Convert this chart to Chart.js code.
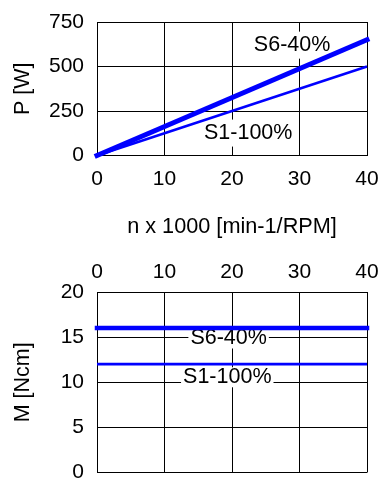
<!DOCTYPE html>
<html><head><meta charset="utf-8">
<script src="https://cdn.jsdelivr.net/npm/chart.js@4"></script>
<style>
html,body{margin:0;padding:0;background:#fff;}
#wrap{position:relative;width:389px;height:491px;background:#fff;}
#c1{position:absolute;left:0;top:0;}
#c2{position:absolute;left:0;top:245px;}
</style></head><body>
<div id="wrap"><canvas id="c1" width="389" height="245"></canvas><canvas id="c2" width="389" height="246"></canvas></div>
<script>
// ---- data ----
const speedK = [0, 40];            // n x 1000 [min-1/RPM]
const powerS6 = [0, 650];          // P [W]
const powerS1 = [0, 500];
const torqueS6 = [16, 16];         // M [Ncm]
const torqueS1 = [12, 12];
const seriesNames = ['S6-40%', 'S1-100%'];
const speedTicks = [0, 10, 20, 30, 40];
const powerTicks = [0, 250, 500, 750];
const torqueTicks = [0, 5, 10, 15, 20];
const xTitle = 'n x 1000 [min-1/RPM]';
const powerTitle = 'P [W]';
const torqueTitle = 'M [Ncm]';

const FONT = "'Liberation Sans', Arial, sans-serif";
const BLUE = '#0000ff';
Chart.defaults.font.family = FONT;
Chart.defaults.font.size = 21;
Chart.defaults.color = '#000';

const pts = (xs, ys) => xs.map((x, i) => ({x: x, y: ys[i]}));
const setTicks = arr => s => { s.ticks = arr.map(v => ({value: v})); };
const fixW = w => s => { s.width = w; s.paddingTop = 0; s.paddingBottom = 0; };
const fixH = h => s => { s.height = h; s.paddingLeft = 0; s.paddingRight = 0; };

// labels drawn on the chart at data coordinates, with white box
const labelPlugin = {
  id: 'seriesLabels',
  beforeDatasetsDraw(chart, args, opts) {
    const ctx = chart.ctx;
    const xs = chart.scales.x, ys = chart.scales.y;
    ctx.save();
    ctx.font = '21.5px ' + FONT;
    ctx.textAlign = 'center';
    ctx.textBaseline = 'middle';
    (opts.items || []).forEach(it => {
      const px = xs.getPixelForValue(it.x);
      const py = ys.getPixelForValue(it.y);
      const w = ctx.measureText(it.text).width + 4;
      const h = opts.boxH || 24;
      ctx.fillStyle = '#fff';
      ctx.fillRect(px - w / 2, py - h / 2, w, h);
      ctx.fillStyle = '#000';
      ctx.fillText(it.text, px, py);
    });
    ctx.restore();
  }
};

const gridOpts = {color: '#000', lineWidth: 1, drawTicks: false};
const borderOpts = {color: '#000', width: 1};

new Chart(document.getElementById('c1'), {
  type: 'line',
  data: {
    datasets: [
      {label: seriesNames[0], data: pts(speedK, powerS6), borderColor: BLUE, borderWidth: 5, borderCapStyle: 'square', pointRadius: 0, clip: false},
      {label: seriesNames[1], data: pts(speedK, powerS1), borderColor: BLUE, borderWidth: 2.5, borderCapStyle: 'butt', pointRadius: 0, clip: false}
    ]
  },
  options: {
    responsive: false, animation: false, events: [],
    layout: {padding: {top: 22, right: 22, left: 0, bottom: 0}},
    plugins: {
      legend: {display: false}, tooltip: {enabled: false},
      seriesLabels: {boxH: 27, items: [
        {text: seriesNames[0], x: 28.9, y: 620},
        {text: seriesNames[1], x: 22.4, y: 126}
      ]}
    },
    scales: {
      x: {
        type: 'linear', position: 'bottom', min: 0, max: 40,
        afterBuildTicks: setTicks(speedTicks),
        afterFit: fixH(89.5),
        grid: gridOpts, border: borderOpts,
        ticks: {padding: 11, maxRotation: 0, autoSkip: false},
        title: {display: true, text: xTitle, font: {size: 21.7}, padding: {top: 0, bottom: 5}}
      },
      y: {
        type: 'linear', position: 'left', min: 0, max: 750,
        afterBuildTicks: setTicks(powerTicks),
        afterFit: fixW(97),
        grid: gridOpts, border: borderOpts,
        ticks: {padding: 13, autoSkip: false},
        title: {display: true, text: powerTitle, font: {size: 21.5}, padding: {top: 10.5, bottom: 0}}
      }
    }
  },
  plugins: [labelPlugin]
});

new Chart(document.getElementById('c2'), {
  type: 'line',
  data: {
    datasets: [
      {label: seriesNames[0], data: pts(speedK, torqueS6), borderColor: BLUE, borderWidth: 4.5, borderCapStyle: 'square', pointRadius: 0, clip: false},
      {label: seriesNames[1], data: pts(speedK, torqueS1), borderColor: BLUE, borderWidth: 2.7, borderCapStyle: 'butt', pointRadius: 0, clip: false}
    ]
  },
  options: {
    responsive: false, animation: false, events: [],
    layout: {padding: {top: 0, right: 22, left: 0, bottom: 18.5}},
    plugins: {
      legend: {display: false}, tooltip: {enabled: false},
      seriesLabels: {boxH: 20, items: [
        {text: seriesNames[0], x: 19.5, y: 14.85},
        {text: seriesNames[1], x: 19.3, y: 10.55}
      ]}
    },
    scales: {
      x: {
        type: 'linear', position: 'top', min: 0, max: 40,
        afterBuildTicks: setTicks(speedTicks),
        afterFit: fixH(47),
        grid: gridOpts, border: borderOpts,
        ticks: {padding: 7, maxRotation: 0, autoSkip: false}
      },
      y: {
        type: 'linear', position: 'left', min: 0, max: 20,
        afterBuildTicks: setTicks(torqueTicks),
        afterFit: fixW(97),
        grid: gridOpts, border: borderOpts,
        ticks: {padding: 13, autoSkip: false},
        title: {display: true, text: torqueTitle, font: {size: 21.5}, padding: {top: 10.5, bottom: 0}}
      }
    }
  },
  plugins: [labelPlugin]
});
</script>
</body></html>
